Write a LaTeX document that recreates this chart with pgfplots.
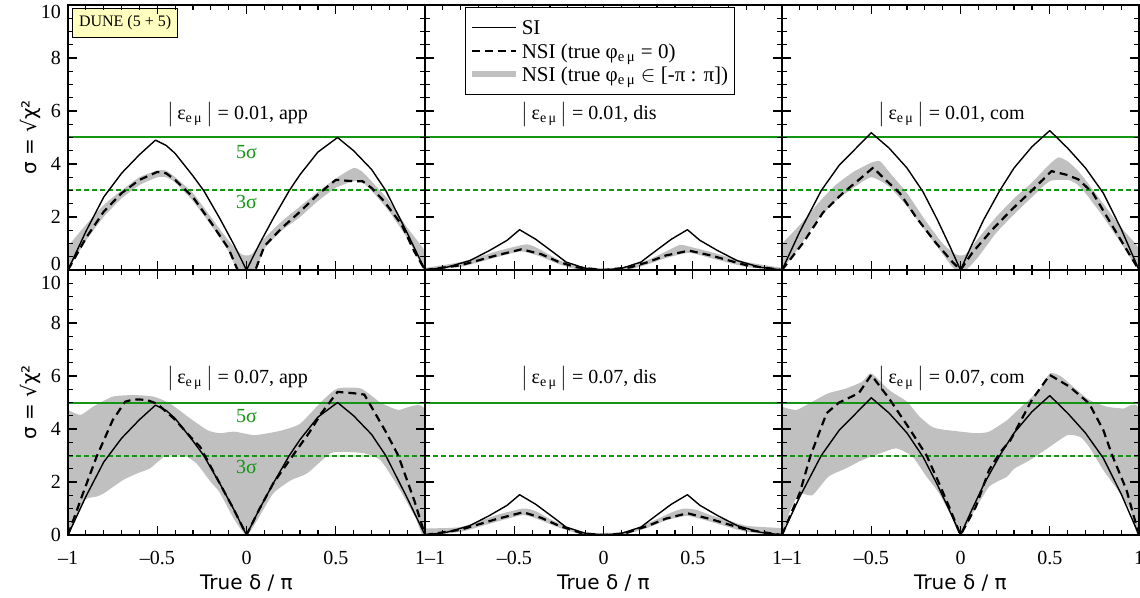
\documentclass[border=0pt]{standalone}
\usepackage{fontspec}
\setmainfont{Liberation Serif}
\newfontfamily\labelfont{DejaVu Sans}
\usepackage{pgfplots}
\usepackage{pgfplotstable}
\pgfplotsset{compat=1.18}
\usepgfplotslibrary{groupplots}
\usetikzlibrary{calc}

\definecolor{band}{RGB}{192,192,192}
\definecolor{sigcol}{RGB}{20,150,20}
\definecolor{dunebox}{RGB}{255,255,192}

\pgfplotsset{
  si/.style={black, line width=0.7pt, line join=round},
  nsi/.style={black, line width=1.1pt, dash pattern=on 4pt off 2.5pt, line join=round},
  bandfill/.style={fill=band, draw=none, forget plot, smooth, tension=0.35},
  fivesig/.style={sigcol, line width=1pt, forget plot},
  threesig/.style={sigcol, line width=1pt, dash pattern=on 2.5pt off 1.5pt, forget plot},
}

% ---- SI curves (same in both rows)
\pgfplotstableread{
x y
-1 0
-0.9 1.45
-0.8 2.75
-0.7 3.65
-0.6 4.35
-0.51 4.9
-0.45 4.7
-0.4 4.4
-0.3 3.55
-0.24 3.0
-0.15 1.95
-0.07 0.95
0 0
0.07 0.95
0.15 1.95
0.24 3.0
0.3 3.6
0.4 4.45
0.51 5.0
0.6 4.5
0.7 3.8
0.78 3.0
0.9 1.4
1 0
}\siApp
\pgfplotstableread{
x y
-1 0
-0.88 0.1
-0.75 0.35
-0.64 0.73
-0.54 1.12
-0.47 1.52
-0.38 1.16
-0.28 0.66
-0.21 0.3
-0.1 0.06
0 0
0.1 0.06
0.21 0.3
0.28 0.66
0.38 1.16
0.47 1.52
0.54 1.12
0.64 0.73
0.75 0.35
0.88 0.1
1 0
}\siDis
\pgfplotstableread{
x y
-1 0
-0.9 1.45
-0.78 3.0
-0.68 3.95
-0.57 4.7
-0.5 5.18
-0.4 4.6
-0.3 3.85
-0.21 2.95
-0.13 1.9
-0.06 0.9
0 0
0.06 0.9
0.13 1.9
0.22 3.0
0.3 3.85
0.4 4.65
0.5 5.26
0.6 4.6
0.7 3.85
0.8 2.9
0.9 1.55
1 0
}\siCom

% ---- NSI, |eps| = 0.01
\pgfplotstableread{
x y
-1 0
-0.9 1.2
-0.8 2.2
-0.7 2.9
-0.6 3.4
-0.5 3.7
-0.45 3.65
-0.4 3.4
-0.3 2.75
-0.2 1.8
-0.1 0.8
-0.05 0
0.05 0
0.1 0.9
0.2 1.6
0.3 2.2
0.4 2.85
0.5 3.4
0.6 3.35
0.65 3.35
0.7 3.1
0.77 2.6
0.87 1.7
0.94 0.7
1 0
}\nsiAppA
\pgfplotstableread{
x y
-1 0
-0.8 0.18
-0.6 0.55
-0.46 0.78
-0.35 0.6
-0.25 0.3
-0.15 0.1
0 0
0.15 0.1
0.25 0.3
0.35 0.55
0.48 0.73
0.6 0.55
0.8 0.18
1 0
}\nsiDisA
\pgfplotstableread{
x y
-1 0
-0.88 1.04
-0.77 2.17
-0.66 2.9
-0.57 3.4
-0.49 3.86
-0.42 3.4
-0.34 2.9
-0.25 2.0
-0.14 1.04
-0.045 0.3
0 0
0.067 0.66
0.18 1.54
0.29 2.3
0.4 3.0
0.51 3.73
0.59 3.6
0.66 3.42
0.74 2.92
0.85 1.67
0.94 0.66
1 0
}\nsiComA
\pgfplotstableread{
x y
-1 0.9
-0.9 1.7
-0.8 2.45
-0.7 3.0
-0.6 3.5
-0.5 3.75
-0.45 3.75
-0.4 3.5
-0.3 2.9
-0.2 2.0
-0.1 1.1
-0.03 0.6
0 0.55
0.03 0.6
0.1 1.2
0.2 1.85
0.3 2.4
0.4 2.95
0.5 3.45
0.6 3.85
0.65 3.7
0.7 3.35
0.8 2.6
0.9 1.6
1 0.7
1 0
0.9 1.2
0.8 2.2
0.7 3.0
0.65 3.3
0.6 3.35
0.5 3.1
0.4 2.6
0.3 2.0
0.2 1.5
0.1 0.8
0.05 0
-0.05 0
-0.1 0.7
-0.2 1.7
-0.3 2.6
-0.4 3.3
-0.45 3.5
-0.5 3.5
-0.6 3.2
-0.7 2.7
-0.8 2.0
-0.9 1.1
-1 0
}\bandAppA
\pgfplotstableread{
x y
-1 0.08
-0.8 0.3
-0.6 0.7
-0.43 0.97
-0.35 0.75
-0.25 0.38
-0.15 0.15
0 0.06
0.15 0.15
0.25 0.38
0.35 0.7
0.43 0.95
0.5 0.85
0.6 0.68
0.8 0.3
1 0.08
1 0
0.8 0.12
0.6 0.45
0.48 0.65
0.35 0.45
0.25 0.22
0.15 0.03
0 0
-0.15 0.03
-0.25 0.22
-0.35 0.5
-0.46 0.7
-0.6 0.48
-0.8 0.12
-1 0
}\bandDisA
\pgfplotstableread{
x y
-1 1.0
-0.9 1.7
-0.8 2.5
-0.7 3.2
-0.6 3.7
-0.5 4.05
-0.45 4.1
-0.4 3.7
-0.3 2.9
-0.2 1.9
-0.1 1.0
-0.03 0.6
0 0.55
0.03 0.6
0.1 1.2
0.2 2.0
0.3 2.7
0.4 3.3
0.5 4.0
0.55 4.25
0.6 4.1
0.65 3.8
0.7 3.4
0.8 2.5
0.9 1.6
1 0.8
1 0
0.9 1.0
0.8 2.0
0.7 2.9
0.65 3.25
0.6 3.4
0.5 3.35
0.4 2.75
0.3 2.1
0.2 1.4
0.1 0.5
0.03 0
-0.03 0
-0.1 0.6
-0.2 1.5
-0.3 2.4
-0.4 3.15
-0.5 3.5
-0.6 3.1
-0.7 2.6
-0.8 1.9
-0.9 0.9
-1 0
}\bandComA

% ---- NSI, |eps| = 0.07
\pgfplotstableread{
x y
-1 0
-0.92 1.5
-0.84 2.95
-0.75 4.33
-0.68 5.03
-0.63 5.12
-0.56 5.1
-0.5 4.95
-0.4 4.35
-0.3 3.6
-0.26 3.33
-0.15 1.95
-0.07 0.95
0 0
0.07 0.95
0.15 1.95
0.27 3.1
0.35 3.85
0.42 4.6
0.51 5.4
0.6 5.35
0.66 5.3
0.72 4.6
0.78 3.9
0.85 3.0
0.94 1.3
1 0
}\nsiAppB
\pgfplotstableread{
x y
-1 0
-0.8 0.2
-0.6 0.6
-0.45 0.86
-0.35 0.65
-0.25 0.35
-0.12 0.06
0 0
0.12 0.06
0.25 0.35
0.35 0.62
0.47 0.82
0.6 0.6
0.8 0.2
1 0
}\nsiDisB
\pgfplotstableread{
x y
-1 0
-0.9 1.6
-0.84 3.0
-0.75 4.6
-0.68 5.0
-0.57 5.35
-0.5 6.04
-0.4 5.15
-0.29 4.05
-0.19 3.0
-0.12 1.95
-0.06 1.0
0 0
0.086 1.07
0.16 2.45
0.22 3.1
0.28 3.58
0.4 5.1
0.5 6.04
0.61 5.6
0.72 4.97
0.8 3.96
0.85 3.0
0.93 1.7
1 0
}\nsiComB
\pgfplotstableread{
x y
-1 4.72
-0.93 4.53
-0.86 4.84
-0.75 5.22
-0.63 5.28
-0.52 5.22
-0.43 4.97
-0.33 4.47
-0.22 3.96
-0.15 3.84
-0.07 3.9
0.04 3.77
0.12 3.84
0.2 3.95
0.3 4.2
0.43 5.1
0.51 5.53
0.64 5.53
0.75 5.0
0.85 4.72
1 4.7
1 0
0.95 0.6
0.86 1.7
0.75 2.83
0.66 3.08
0.55 3.14
0.47 3.08
0.34 2.33
0.25 2.07
0.15 1.57
0.06 0.56
0 0
-0.07 0.6
-0.15 1.6
-0.2 2.0
-0.28 2.7
-0.35 3.0
-0.45 3.0
-0.54 2.52
-0.61 2.33
-0.69 2.08
-0.8 1.57
-0.84 1.45
-0.9 1.35
-0.95 0.7
-1 0
}\bandAppB
\pgfplotstableread{
x y
-1 0.25
-0.8 0.3
-0.6 0.75
-0.45 1.0
-0.38 0.9
-0.3 0.6
-0.2 0.3
-0.1 0.1
0 0.08
0.1 0.1
0.2 0.3
0.3 0.6
0.38 0.85
0.45 1.0
0.52 0.95
0.6 0.75
0.8 0.35
1 0.25
1 0
0.8 0.12
0.6 0.5
0.47 0.72
0.35 0.55
0.25 0.28
0.1 0
-0.1 0
-0.25 0.28
-0.35 0.55
-0.45 0.75
-0.6 0.5
-0.8 0.12
-1 0
}\bandDisB
\pgfplotstableread{
x y
-1 4.84
-0.92 4.72
-0.83 5.03
-0.74 5.35
-0.64 5.53
-0.55 5.79
-0.5 6.1
-0.4 5.47
-0.3 5.03
-0.23 4.47
-0.16 4.08
-0.1 3.98
0 3.9
0.09 3.84
0.16 3.9
0.26 4.33
0.35 4.9
0.44 5.47
0.5 6.1
0.56 6.0
0.63 5.6
0.72 5.1
0.82 4.84
0.91 4.77
1 4.7
1 0
0.95 0.95
0.88 1.7
0.8 2.45
0.72 3.33
0.67 3.7
0.6 3.77
0.5 3.33
0.39 2.83
0.3 2.5
0.26 2.2
0.16 1.82
0.07 0.82
0 0
-0.06 0.82
-0.12 1.57
-0.19 2.2
-0.27 2.96
-0.36 3.27
-0.45 3.08
-0.55 2.83
-0.64 2.52
-0.74 2.2
-0.83 1.5
-0.9 1.57
-0.95 1.0
-1 0
}\bandComB

\newcommand{\epstitle}[2]{$\big|$\,ε\textsubscript{e\,μ}\,$\big|$ = #1, #2}
\newcommand{\upzero}{\vphantom{0}\smash{\raisebox{3pt}{0}}}
\newcommand{\downten}[1]{\vphantom{0}\smash{\raisebox{#1}{10}}}

\begin{document}
\begin{tikzpicture}
\begin{groupplot}[
  group style={group size=3 by 2, horizontal sep=0pt, vertical sep=0pt},
  scale only axis, width=178.5pt, height=132.5pt,
  xmin=-1, xmax=1, ymin=0, ymax=10,
  xtick={-1,-0.5,0,0.5,1}, minor x tick num=4,
  ytick={0,2,4,6,8,10}, minor ytick={0.5,1,...,9.5},
  xtick pos=both, ytick pos=both,
  tick align=inside,
  major tick length=4.5pt, minor tick length=2.3pt,
  tick style={black, line width=0.6pt},
  axis line style={line width=0.8pt},
  axis on top,
  xticklabel style={yshift=-4.5pt},
  every axis x label/.style={at={(axis description cs:0.5,-0.181)}, anchor=center},
  every axis y label/.style={at={(axis description cs:-0.106,0.5)}, rotate=90, anchor=center},
  label style={font=\labelfont},
  legend image code/.code={\draw[#1] (0pt,0pt) -- (22pt,0pt);},
]
% ---- top left
\nextgroupplot[xticklabels={}, yticklabels={\upzero,2,4,6,8,{\downten{-3.5pt}}},
  ylabel={σ = √χ²}]
\addplot[bandfill] table {\bandAppA};
\addplot[fivesig] coordinates {(-1,5) (1,5)};
\addplot[threesig] coordinates {(-1,3) (1,3)};
\addplot[si] table {\siApp};
\addplot[nsi] table {\nsiAppA};
\node at (axis cs:-0.05,5.85) {\epstitle{0.01}{app}};
\node[text=sigcol] at (axis cs:0,4.45) {5σ};
\node[text=sigcol] at (axis cs:0,2.55) {3σ};
\node[draw=black, line width=0.6pt, fill=dunebox, anchor=north west, font=\footnotesize,
  minimum width=52.5pt, minimum height=14.5pt, inner sep=0pt,
  xshift=2pt, yshift=-1.5pt] at (rel axis cs:0,1) {DUNE (5 + 5)};
% ---- top middle
\nextgroupplot[xticklabels={}, yticklabels={},
  legend style={at={(0.49,0.993)}, anchor=north, draw=black, line width=0.6pt,
    fill=white, font=\fontsize{10.5}{12}\selectfont, cells={anchor=west},
    inner xsep=1.5pt, inner ysep=4pt, row sep=0pt,
    nodes={inner xsep=1.5pt, inner ysep=1pt, text height=8.5pt, text depth=1.3pt},
    /tikz/every even column/.append style={column sep=13pt}}]
\addplot[bandfill] table {\bandDisA};
\addplot[fivesig] coordinates {(-1,5) (1,5)};
\addplot[threesig] coordinates {(-1,3) (1,3)};
\addplot[si] table {\siDis};
\addplot[nsi] table {\nsiDisA};
\addlegendimage{band, line width=3pt}
\legend{{SI}, {NSI (true φ\textsubscript{e\,μ} = 0)}, {NSI (true φ\textsubscript{e\,μ} $\in$ [-π : π])}}
\node at (axis cs:-0.08,5.85) {\epstitle{0.01}{dis}};
% ---- top right
\nextgroupplot[xticklabels={}, yticklabels={}]
\addplot[bandfill] table {\bandComA};
\addplot[fivesig] coordinates {(-1,5) (1,5)};
\addplot[threesig] coordinates {(-1,3) (1,3)};
\addplot[si] table {\siCom};
\addplot[nsi] table {\nsiComA};
\node at (axis cs:-0.05,5.85) {\epstitle{0.01}{com}};
% ---- bottom left
\nextgroupplot[xticklabels={{--1},{--0.5},0,0.5,{\llap{1}}},
  yticklabels={0,2,4,6,8,{\downten{-6.5pt}}},
  xlabel={True δ / π}, ylabel={σ = √χ²}]
\addplot[bandfill] table {\bandAppB};
\addplot[fivesig] coordinates {(-1,5) (1,5)};
\addplot[threesig] coordinates {(-1,3) (1,3)};
\addplot[si] table {\siApp};
\addplot[nsi] table {\nsiAppB};
\node at (axis cs:-0.05,5.9) {\epstitle{0.07}{app}};
\node[text=sigcol] at (axis cs:0,4.5) {5σ};
\node[text=sigcol] at (axis cs:0,2.55) {3σ};
% ---- bottom middle
\nextgroupplot[xticklabels={{\rlap{--1}},{--0.5},0,0.5,{\llap{1}}}, yticklabels={},
  xlabel={True δ / π}]
\addplot[bandfill] table {\bandDisB};
\addplot[fivesig] coordinates {(-1,5) (1,5)};
\addplot[threesig] coordinates {(-1,3) (1,3)};
\addplot[si] table {\siDis};
\addplot[nsi] table {\nsiDisB};
\node at (axis cs:-0.08,5.9) {\epstitle{0.07}{dis}};
% ---- bottom right
\nextgroupplot[xticklabels={{\rlap{--1}},{--0.5},0,0.5,1}, yticklabels={},
  xlabel={True δ / π}]
\addplot[bandfill] table {\bandComB};
\addplot[fivesig] coordinates {(-1,5) (1,5)};
\addplot[threesig] coordinates {(-1,3) (1,3)};
\addplot[si] table {\siCom};
\addplot[nsi] table {\nsiComB};
\node at (axis cs:-0.05,5.9) {\epstitle{0.07}{com}};
\end{groupplot}
\pgfresetboundingbox
\path[use as bounding box] ($(group c1r1.north west)+(-34pt,2.5pt)$) rectangle ($(group c3r2.south east)+(0.5pt,-31pt)$);
\end{tikzpicture}
\end{document}
